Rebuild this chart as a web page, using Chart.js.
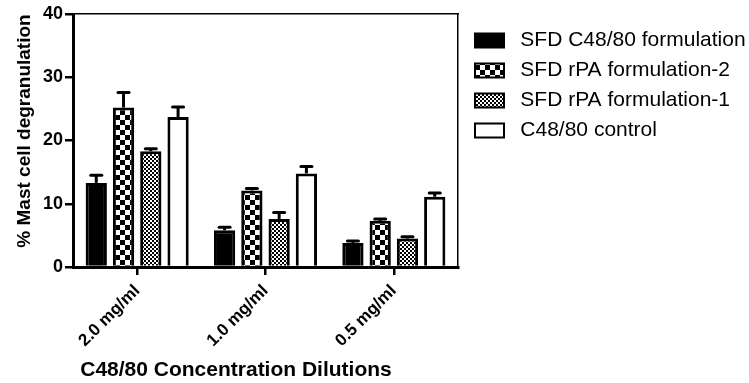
<!DOCTYPE html>
<html><head><meta charset="utf-8">
<script src="https://cdn.jsdelivr.net/npm/chart.js@4.4.1/dist/chart.umd.min.js"></script>
<style>html,body{margin:0;padding:0;background:#fff}canvas{display:block}</style>
</head><body>
<canvas id="c" width="749" height="383"></canvas>
<script>
// ---- data ----
const categories = ['2.0 mg/ml', '1.0 mg/ml', '0.5 mg/ml'];
const seriesNames = ['SFD C48/80 formulation', 'SFD rPA formulation-2', 'SFD rPA formulation-1', 'C48/80 control'];
const sfdC4880 = [13.3, 5.8, 3.8];
const sfdC4880Err = [1.2, 0.5, 0.3];
const sfdRpa2 = [25.2, 12.1, 7.3];
const sfdRpa2Err = [2.4, 0.3, 0.3];
const sfdRpa1 = [18.3, 7.6, 4.5];
const sfdRpa1Err = [0.4, 1.0, 0.3];
const control = [23.7, 14.8, 11.1];
const controlErr = [1.6, 1.1, 0.6];
const yTicks = [0, 10, 20, 30, 40];
const yTitle = '% Mast cell degranulation';
const xTitle = 'C48/80 Concentration Dilutions';

const FONT = "'Liberation Sans', Arial, Helvetica, sans-serif";
Chart.defaults.font.family = FONT;
Chart.defaults.color = '#000';

function makePattern(cell) {
  const t = document.createElement('canvas');
  t.width = cell * 2; t.height = cell * 2;
  const g = t.getContext('2d');
  g.fillStyle = '#fff'; g.fillRect(0, 0, t.width, t.height);
  g.fillStyle = '#000';
  g.fillRect(0, 0, cell, cell);
  g.fillRect(cell, cell, cell, cell);
  return g.createPattern(t, 'repeat');
}
const bigChecker = makePattern(5);
const fineChecker = makePattern(2);

const values = [sfdC4880, sfdRpa2, sfdRpa1, control];
const errors = [sfdC4880Err, sfdRpa2Err, sfdRpa1Err, controlErr];
const fills = ['#000', bigChecker, fineChecker, '#fff'];

const datasets = seriesNames.map((n, i) => ({
  label: n,
  data: values[i],
  backgroundColor: fills[i],
  borderColor: '#000',
  borderWidth: 3,
  xAxisID: 'x',
  yAxisID: 'y',
  categoryPercentage: 0.85,
  barPercentage: 0.78
}));

const LEGEND_WIDTH = 283;
const wideLegend = {
  id: 'wideLegend',
  beforeLayout(chart) {
    const lg = chart.legend;
    if (lg && !lg.__wide) {
      const f = lg.fit;
      lg.fit = function () {
        this.maxWidth = Math.max(this.maxWidth, 400);
        const r = f.call(this);
        this.width = LEGEND_WIDTH;
        return r;
      };
      lg.__wide = true;
    }
  }
};

const extras = {
  id: 'extras',
  afterDatasetsDraw(chart) {
    const ctx = chart.ctx, ys = chart.scales.y;
    ctx.save();
    ctx.strokeStyle = '#000';
    ctx.lineWidth = 3;
    values.forEach((vals, i) => {
      const meta = chart.getDatasetMeta(i);
      meta.data.forEach((bar, j) => {
        const top = ys.getPixelForValue(vals[j] + errors[i][j]);
        ctx.lineCap = 'butt';
        ctx.beginPath(); ctx.moveTo(bar.x, bar.y); ctx.lineTo(bar.x, top); ctx.stroke();
        ctx.lineCap = 'round';
        ctx.beginPath(); ctx.moveTo(bar.x - 5.5, top); ctx.lineTo(bar.x + 5.5, top); ctx.stroke();
      });
    });
    ctx.restore();
  },
  afterDraw(chart) {
    const ctx = chart.ctx;
    ctx.save();
    ctx.fillStyle = '#000';
    ctx.textAlign = 'center';
    ctx.textBaseline = 'middle';
    ctx.font = 'bold 21px ' + FONT;
    ctx.fillText(xTitle, 236, 370);
    ctx.translate(25, 131);
    ctx.rotate(-Math.PI / 2);
    ctx.font = 'bold 19px ' + FONT;
    ctx.fillText(yTitle, 0, 0);
    ctx.restore();
  }
};

new Chart(document.getElementById('c'), {
  type: 'bar',
  data: { labels: categories, datasets },
  plugins: [wideLegend, extras],
  options: {
    responsive: false,
    animation: false,
    layout: { padding: { left: 0, right: 0, top: 0, bottom: 0 } },
    plugins: {
      tooltip: { enabled: false },
      legend: {
        position: 'right',
        align: 'start',
        title: { display: true, text: '', font: { size: 10 }, padding: { top: 5, bottom: 4 } },
        labels: {
          boxWidth: 29,
          boxHeight: 14,
          padding: 9,
          font: { size: 21 },
          color: '#000',
          generateLabels(chart) {
            const items = Chart.defaults.plugins.legend.labels.generateLabels(chart);
            items.forEach(it => { it.text = ' ' + it.text; it.lineWidth = 2; });
            return items;
          }
        }
      }
    },
    scales: {
      x: {
        type: 'category',
        position: 'bottom',
        offset: true,
        grid: { display: true, drawOnChartArea: false, drawTicks: true, tickLength: 8, offset: false, color: '#000', lineWidth: 2.5 },
        border: { display: true, color: '#000', width: 3 },
        ticks: { minRotation: 45, maxRotation: 45, font: { size: 17, weight: 'bold' }, color: '#000', padding: 6 },
        afterFit(s) { s.height = 116; }
      },
      x2: {
        type: 'category',
        labels: categories,
        position: 'top',
        grid: { display: false, drawTicks: false },
        ticks: { display: false },
        border: { display: true, color: '#000', width: 1.5 },
        afterFit(s) { s.height = 14; }
      },
      y: {
        type: 'linear',
        position: 'left',
        min: yTicks[0],
        max: yTicks[yTicks.length - 1],
        afterBuildTicks(s) { s.ticks = yTicks.map(v => ({ value: v })); },
        grid: { display: true, drawOnChartArea: false, drawTicks: true, tickLength: 8, color: '#000', lineWidth: 2.5 },
        border: { display: true, color: '#000', width: 3 },
        ticks: { font: { size: 18, weight: 'bold' }, color: '#000', padding: 2 },
        afterFit(s) { s.width = 73; }
      },
      y2: {
        type: 'linear',
        position: 'right',
        grid: { display: false, drawTicks: false },
        ticks: { display: false },
        border: { display: true, color: '#000', width: 1.5 },
        afterFit(s) { s.width = 8; }
      }
    }
  }
});
</script>
</body></html>
